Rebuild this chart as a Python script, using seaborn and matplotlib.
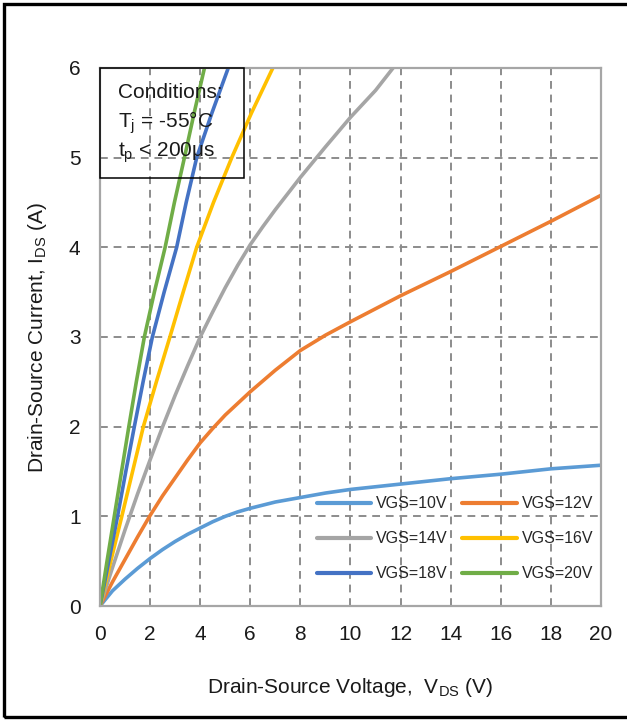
import pandas as pd
import matplotlib.pyplot as plt
import seaborn as sns
from matplotlib.patches import Rectangle

# Output characteristics, one curve per gate voltage
v10 = [0, 0.5, 1, 1.5, 2, 2.5, 3, 3.5, 4, 4.5, 5, 5.5, 6, 7, 8, 9, 10, 12, 14, 16, 18, 20]
i10 = [0, 0.17, 0.30, 0.42, 0.53, 0.63, 0.72, 0.80, 0.87, 0.94, 1.00, 1.05, 1.09, 1.16,
       1.21, 1.26, 1.30, 1.36, 1.42, 1.47, 1.53, 1.57]

v12 = [0, 0.5, 1, 1.5, 2, 2.5, 3, 3.5, 4, 4.5, 5, 5.5, 6, 7, 8, 9, 10, 12, 14, 16, 18, 20]
i12 = [0, 0.27, 0.52, 0.77, 1.01, 1.23, 1.43, 1.63, 1.82, 1.98, 2.13, 2.26, 2.39, 2.63,
       2.85, 3.02, 3.17, 3.46, 3.73, 4.01, 4.29, 4.58]

v14 = [0, 0.5, 1, 1.5, 2, 2.5, 3, 3.5, 4, 4.5, 5, 5.5, 6, 6.5, 7, 7.5, 8, 9, 10, 11, 11.7]
i14 = [0, 0.43, 0.85, 1.25, 1.63, 2.00, 2.35, 2.68, 3.00, 3.28, 3.55, 3.80, 4.03, 4.23,
       4.42, 4.60, 4.78, 5.12, 5.45, 5.75, 6.0]

v16 = [0, 0.43, 0.87, 1.30, 1.73, 2.25, 2.79, 3.32, 3.86, 4.53, 5.26, 6.05, 6.9]
i16 = [0, 0.5, 1, 1.5, 2, 2.5, 3, 3.5, 4, 4.5, 5, 5.5, 6]

v18 = [0, 0.35, 0.70, 1.03, 1.37, 1.72, 2.09, 2.56, 3.06, 3.44, 3.86, 4.47, 5.12]
i18 = [0, 0.5, 1, 1.5, 2, 2.5, 3, 3.5, 4, 4.5, 5, 5.5, 6]

v20 = [0, 0.28, 0.57, 0.86, 1.15, 1.45, 1.77, 2.17, 2.60, 2.97, 3.37, 3.76, 4.17]
i20 = [0, 0.5, 1, 1.5, 2, 2.5, 3, 3.5, 4, 4.5, 5, 5.5, 6]

labels = ["VGS=10V", "VGS=12V", "VGS=14V", "VGS=16V", "VGS=18V", "VGS=20V"]
colors = ["#5B9BD5", "#ED7D31", "#A5A5A5", "#FFC000", "#4472C4", "#70AD47"]
xticks = list(range(0, 21, 2))
yticks = list(range(0, 7))

frames = []
for lab, v, i in zip(labels, [v10, v12, v14, v16, v18, v20], [i10, i12, i14, i16, i18, i20]):
    frames.append(pd.DataFrame({"VDS": v, "IDS": i, "curve": lab}))
df = pd.concat(frames, ignore_index=True)

sns.set_theme(style="white")
plt.rcParams["font.family"] = ["Liberation Sans", "DejaVu Sans"]
plt.rcParams["mathtext.default"] = "regular"

fig = plt.figure(figsize=(6.27, 7.2), dpi=100)
ax = fig.add_axes([0.1595, 0.1583, 0.799, 0.7473])

sns.lineplot(data=df, x="VDS", y="IDS", hue="curve", palette=dict(zip(labels, colors)),
             estimator=None, sort=False, linewidth=2.6, ax=ax)

ax.set_xlim(0, 20)
ax.set_ylim(0, 6)
ax.set_xticks(xticks)
ax.set_yticks(yticks)
ax.tick_params(axis="both", labelsize=15, length=0, colors="#1a1a1a")
ax.tick_params(axis="x", pad=14)
ax.tick_params(axis="y", pad=14)
ax.grid(True, color="#8C8C8C", linestyle=(0, (4, 3)), linewidth=1.4)
for s in ax.spines.values():
    s.set_color("#A6A6A6")
    s.set_linewidth(1.6)

ax.set_xlabel("Drain-Source Voltage,  V$_{DS}$ (V)", fontsize=15, labelpad=23, color="#1a1a1a")
ax.set_ylabel("Drain-Source Current, I$_{DS}$ (A)", fontsize=15, labelpad=14, color="#1a1a1a")

# legend filled row by row like the reference
handles, labs = ax.get_legend_handles_labels()
order = [0, 2, 4, 1, 3, 5]
leg = ax.legend([handles[k] for k in order], [labs[k] for k in order], ncol=2,
                loc="lower right", bbox_to_anchor=(0.997, 0.034), borderaxespad=0,
                frameon=False, fontsize=11.5, handlelength=3.4, columnspacing=0.95,
                handletextpad=0.3, labelspacing=1.25)
for h in leg.get_lines():
    h.set_linewidth(3)

# Conditions box in the top-left corner
ax.add_patch(Rectangle((0, 4.77), 5.75, 1.23, fill=False, edgecolor="black", linewidth=1.1,
                       zorder=5, clip_on=False))
ax.text(0.72, 5.665, "Conditions:", fontsize=15, va="baseline", ha="left", color="#1a1a1a")
ax.text(0.72, 5.33, "T$_{j}$ = -55°C", fontsize=15, va="baseline", ha="left", color="#1a1a1a")
ax.text(0.72, 5.007, "t$_{p}$ < 200μs", fontsize=15, va="baseline", ha="left", color="#1a1a1a")

# black frame around the whole chart (open on the right like the reference)
fig.add_artist(Rectangle((0.0064, 0.0042), 1.2, 0.9902, transform=fig.transFigure,
                         fill=False, edgecolor="black", linewidth=2.4))

fig.savefig("out.png", dpi=100)
